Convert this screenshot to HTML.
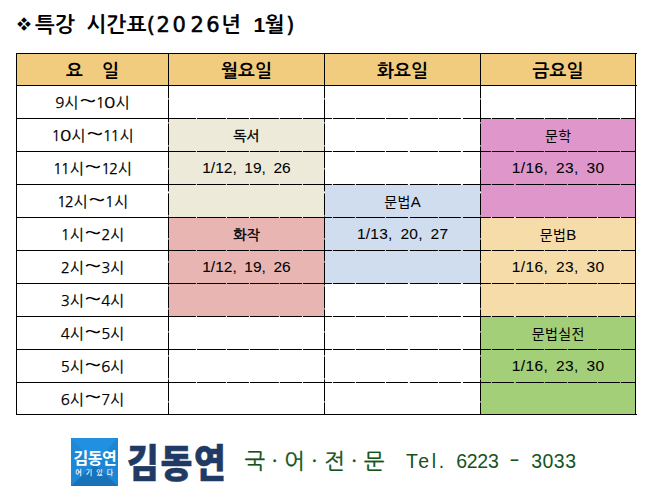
<!DOCTYPE html>
<html lang="ko"><head><meta charset="utf-8"><title>특강 시간표</title>
<style>
html,body{margin:0;padding:0;background:#fff;}
body{width:654px;height:501px;position:relative;overflow:hidden;font-family:"Liberation Sans","NanumGothic","Noto Sans CJK KR",sans-serif;color:#000;}
.abs{position:absolute;}
.dot{display:inline-block;width:19.1px;text-align:center;}
.dash{display:inline-block;position:relative;top:-1.5px;transform:scaleX(1.6);margin:0 12.5px 0 13px;}
.f{position:absolute;}
.hl{position:absolute;height:1px;background:#000;}
.vl{position:absolute;width:1px;background:#000;}
.hd{background:repeating-linear-gradient(to right,#000 0,#000 22.3px,rgba(0,0,0,.03) 22.3px,rgba(0,0,0,.03) 23.5px,#000 23.5px,#000 51.8px,rgba(0,0,0,.03) 51.8px,rgba(0,0,0,.03) 53px);background-position:4.9px 0;}
.vd{background:repeating-linear-gradient(to bottom,#000 0,#000 22.2px,rgba(0,0,0,.03) 22.2px,rgba(0,0,0,.03) 23.3px);background-position:0 -9.6px;}
.c{position:absolute;display:flex;align-items:center;justify-content:center;white-space:nowrap;font-family:"NanumGothic","Noto Sans CJK KR",sans-serif;font-size:14px;}
.h{font-weight:bold;font-size:18px;padding-top:3px;box-sizing:border-box;}
.b{font-weight:normal;font-size:14px;padding-top:1.5px;box-sizing:border-box;-webkit-text-stroke:0.45px #000;}
.r{font-family:"Noto Sans CJK KR","NanumGothic",sans-serif;font-weight:400;font-size:14px;letter-spacing:0.4px;padding-top:0px;padding-left:0.4px;box-sizing:border-box;}
.la{font-family:"Liberation Sans",sans-serif;font-size:15px;}
.n{font-family:"Liberation Sans","NanumGothic",sans-serif;font-size:15.5px;word-spacing:3.3px;padding-top:0;padding-bottom:0.6px;box-sizing:border-box;-webkit-text-stroke:0.06px #000;}
.n2{letter-spacing:0.25px;padding-left:0.25px}
.n3{letter-spacing:0.36px;padding-left:0.36px}
.t{font-size:15px;letter-spacing:0;-webkit-text-stroke:0.25px #000;padding-top:1px;box-sizing:border-box;}
.d{letter-spacing:-1.4px;margin-right:1.2px;}
.z{display:inline-block;transform:scaleX(1.25);margin:0 1.7px 0 1.5px;}
.w{display:inline-block;position:relative;top:-1.2px;-webkit-text-stroke:0;transform:scale(1.95,1.25);margin:0 3.2px 0 4.4px;}
#title{position:absolute;left:15px;top:10px;font-family:"NanumGothic","Noto Sans CJK KR",sans-serif;font-weight:bold;font-size:21px;line-height:30px;white-space:nowrap;letter-spacing:0.3px;word-spacing:5.3px;}
#title .num{font-family:"DejaVu Sans","Liberation Sans",sans-serif;font-weight:normal;-webkit-text-stroke:0.55px #000;letter-spacing:2.85px;}
#title .one{font-family:"Liberation Sans",sans-serif;letter-spacing:-0.5px;margin-left:1px;}
#title .sym{display:inline-block;width:19px;font-size:17px;letter-spacing:0;vertical-align:1.6px;text-align:left;margin-left:1px;}
</style></head><body>
<div id="title"><span class="sym">❖</span>특강 시간표<span class="num" style="letter-spacing:1.5px">(</span><span class="num">2</span><span class="num" style="letter-spacing:4.6px">0</span><span class="num" style="letter-spacing:2.4px">2</span><span class="num" style="letter-spacing:1.2px">6</span>년 <span class="one">1</span>월<span class="num" style="margin-left:1.5px">)</span></div>

<div class="f" style="left:17px;top:54px;width:151px;height:31px;background:#F2CC7E"></div>
<div class="f" style="left:169px;top:54px;width:155px;height:31px;background:#F2CC7E"></div>
<div class="f" style="left:325px;top:54px;width:155px;height:31px;background:#F2CC7E"></div>
<div class="f" style="left:481px;top:54px;width:154px;height:31px;background:#F2CC7E"></div>
<div class="f" style="left:169px;top:119px;width:155px;height:98px;background:#EEEADA"></div>
<div class="f" style="left:169px;top:218px;width:155px;height:98px;background:#E8B5B3"></div>
<div class="f" style="left:325px;top:185px;width:155px;height:98px;background:#CFDDEE"></div>
<div class="f" style="left:481px;top:119px;width:154px;height:98px;background:#DF97CB"></div>
<div class="f" style="left:481px;top:218px;width:154px;height:98px;background:#F6DCA8"></div>
<div class="f" style="left:481px;top:317px;width:154px;height:97px;background:#A2CF78"></div>
<div class="hl" style="left:16px;top:53px;width:621px"></div>
<div class="hl" style="left:16px;top:85px;width:621px"></div>
<div class="hl" style="left:16px;top:118px;width:153px"></div>
<div class="hl hd" style="left:169px;top:118px;width:467px"></div>
<div class="hl" style="left:16px;top:151px;width:153px"></div>
<div class="hl hd" style="left:169px;top:151px;width:467px"></div>
<div class="hl" style="left:16px;top:184px;width:153px"></div>
<div class="hl hd" style="left:169px;top:184px;width:467px"></div>
<div class="hl" style="left:16px;top:217px;width:153px"></div>
<div class="hl hd" style="left:169px;top:217px;width:467px"></div>
<div class="hl" style="left:16px;top:250px;width:153px"></div>
<div class="hl hd" style="left:169px;top:250px;width:467px"></div>
<div class="hl" style="left:16px;top:283px;width:153px"></div>
<div class="hl hd" style="left:169px;top:283px;width:467px"></div>
<div class="hl" style="left:16px;top:316px;width:153px"></div>
<div class="hl hd" style="left:169px;top:316px;width:467px"></div>
<div class="hl" style="left:16px;top:349px;width:153px"></div>
<div class="hl hd" style="left:169px;top:349px;width:467px"></div>
<div class="hl" style="left:16px;top:382px;width:153px"></div>
<div class="hl hd" style="left:169px;top:382px;width:467px"></div>
<div class="hl" style="left:16px;top:414px;width:621px"></div>
<div class="vl" style="left:16px;top:53px;height:362px"></div>
<div class="vl" style="left:168px;top:53px;height:33px"></div>
<div class="vl vd" style="left:168px;top:86px;height:329px"></div>
<div class="vl" style="left:324px;top:53px;height:33px"></div>
<div class="vl vd" style="left:324px;top:86px;height:329px"></div>
<div class="vl" style="left:480px;top:53px;height:33px"></div>
<div class="vl vd" style="left:480px;top:86px;height:329px"></div>
<div class="vl" style="left:635px;top:53px;height:362px"></div>
<div class="c h" id="c0_0" style="left:17px;top:54px;width:151px;height:31px">요<span style="display:inline-block;width:19px"></span>일</div>
<div class="c h" id="c1_0" style="left:169px;top:54px;width:155px;height:31px">월요일</div>
<div class="c h" id="c2_0" style="left:325px;top:54px;width:155px;height:31px">화요일</div>
<div class="c h" id="c3_0" style="left:481px;top:54px;width:154px;height:31px">금요일</div>
<div class="c t" id="c0_1" style="left:17px;top:86px;width:151px;height:32px"><span class="d">9</span>시<span class="w">~</span><span class="d">1<span class="z">0</span></span>시</div>
<div class="c t" id="c0_2" style="left:17px;top:119px;width:151px;height:32px"><span class="d">1<span class="z">0</span></span>시<span class="w">~</span><span class="d">11</span>시</div>
<div class="c t" id="c0_3" style="left:17px;top:152px;width:151px;height:32px"><span class="d">11</span>시<span class="w">~</span><span class="d">12</span>시</div>
<div class="c t" id="c0_4" style="left:17px;top:185px;width:151px;height:32px"><span class="d">12</span>시<span class="w">~</span><span class="d">1</span>시</div>
<div class="c t" id="c0_5" style="left:17px;top:218px;width:151px;height:32px"><span class="d">1</span>시<span class="w">~</span><span class="d">2</span>시</div>
<div class="c t" id="c0_6" style="left:17px;top:251px;width:151px;height:32px"><span class="d">2</span>시<span class="w">~</span><span class="d">3</span>시</div>
<div class="c t" id="c0_7" style="left:17px;top:284px;width:151px;height:32px"><span class="d">3</span>시<span class="w">~</span><span class="d">4</span>시</div>
<div class="c t" id="c0_8" style="left:17px;top:317px;width:151px;height:32px"><span class="d">4</span>시<span class="w">~</span><span class="d">5</span>시</div>
<div class="c t" id="c0_9" style="left:17px;top:350px;width:151px;height:32px"><span class="d">5</span>시<span class="w">~</span><span class="d">6</span>시</div>
<div class="c t" id="c0_10" style="left:17px;top:383px;width:151px;height:31px"><span class="d">6</span>시<span class="w">~</span><span class="d">7</span>시</div>
<div class="c b" id="c1_2" style="left:169px;top:119px;width:155px;height:32px">독서</div>
<div class="c n" id="c1_3" style="left:169px;top:152px;width:155px;height:32px">1/12, 19, 26</div>
<div class="c b" id="c1_5" style="left:169px;top:218px;width:155px;height:32px">화작</div>
<div class="c n" id="c1_6" style="left:169px;top:251px;width:155px;height:32px">1/12, 19, 26</div>
<div class="c r" id="c2_4" style="left:325px;top:185px;width:155px;height:32px">문법<span class="la">A</span></div>
<div class="c n n2" id="c2_5" style="left:325px;top:218px;width:155px;height:32px">1/13, 20, 27</div>
<div class="c r" id="c3_2" style="left:481px;top:119px;width:154px;height:32px">문학</div>
<div class="c n n3" id="c3_3" style="left:481px;top:152px;width:154px;height:32px">1/16, 23, 30</div>
<div class="c r" id="c3_5" style="left:481px;top:218px;width:154px;height:32px">문법<span class="la">B</span></div>
<div class="c n n3" id="c3_6" style="left:481px;top:251px;width:154px;height:32px">1/16, 23, 30</div>
<div class="c r" id="c3_8" style="left:481px;top:317px;width:154px;height:32px">문법실전</div>
<div class="c n n3" id="c3_9" style="left:481px;top:350px;width:154px;height:32px">1/16, 23, 30</div>

<div id="logo" class="abs" style="left:71px;top:438px;width:47px;height:48px;">
<svg width="47" height="48" viewBox="0 0 47 48" style="position:absolute;left:0;top:0">
<rect width="47" height="48" fill="#1E88D6"/>
<polygon points="0,0 47,0 23.5,26" fill="#2190E0"/>
<polygon points="0,48 47,48 23.5,26" fill="#1872BA"/>
<polygon points="47,0 47,48 23.5,26" fill="#1B86D4"/>
</svg>
<div class="abs" id="l1" style="left:2.5px;top:9.3px;color:#fff;font-family:'Noto Sans CJK KR','NanumGothic',sans-serif;font-weight:bold;font-size:16px;line-height:20px;letter-spacing:-0.5px;white-space:nowrap;">김동연</div>
<div class="abs" id="l2" style="left:4.2px;top:28.4px;color:#fff;font-family:'Noto Sans CJK KR','NanumGothic',sans-serif;font-weight:500;font-size:7px;line-height:12px;letter-spacing:4.1px;white-space:nowrap;">여기있다</div>
</div>
<div id="big" class="abs" style="left:127px;top:428.2px;color:#1F3A64;font-family:'Noto Sans CJK KR','NanumGothic',sans-serif;font-weight:900;font-size:36px;line-height:60px;letter-spacing:1.8px;white-space:nowrap;transform-origin:0 0;transform:scale(0.96,1.07);-webkit-text-stroke:0.5px #1F3A64;">김동연</div>
<div id="sub" class="abs" style="left:244.5px;top:446px;color:#14541A;font-family:'NanumGothic','Noto Sans CJK KR',sans-serif;font-size:22px;line-height:30px;white-space:nowrap;-webkit-text-stroke:0.3px #14541A;">국<span class="dot">·</span>어<span class="dot">·</span>전<span class="dot">·</span>문</div>
<div id="tel" class="abs" style="left:406px;top:445.5px;color:#14541A;font-family:'Liberation Sans',sans-serif;font-size:19.5px;line-height:30px;white-space:nowrap;letter-spacing:-0.3px"><span style="letter-spacing:2.6px">Tel.</span><span style="margin-left:9.5px">6223</span><span class="dash">-</span><span style="letter-spacing:0.5px;margin-left:1px">3033</span></div>
</body></html>
